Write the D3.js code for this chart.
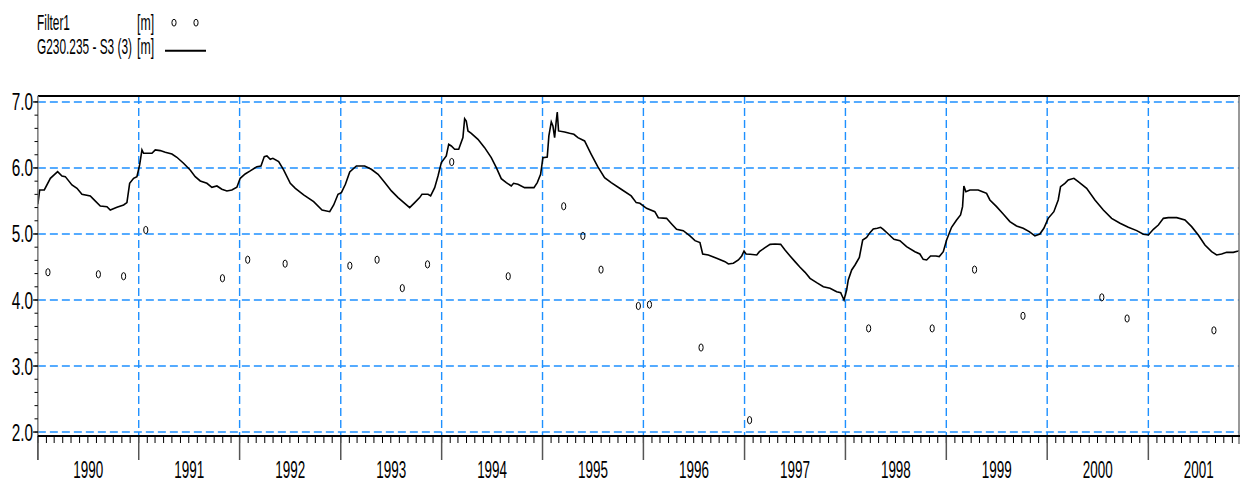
<!DOCTYPE html>
<html><head><meta charset="utf-8">
<script src="https://cdn.jsdelivr.net/npm/d3@7/dist/d3.min.js"></script>
<style>html,body{margin:0;padding:0;background:#fff;}svg{display:block;}</style>
</head><body>
<script>
// ---- Data (decimal years, metres) ----
const lineYears = [1990.000,1990.018,1990.064,1990.124,1990.196,1990.239,1990.272,1990.338,1990.388,1990.437,1990.520,1990.553,1990.619,1990.685,1990.718,1990.784,1990.850,1990.883,1990.910,1990.949,1990.982,1991.009,1991.032,1991.048,1991.131,1991.164,1991.213,1991.263,1991.329,1991.378,1991.444,1991.510,1991.560,1991.610,1991.676,1991.725,1991.775,1991.824,1991.874,1991.923,1991.973,1992.006,1992.055,1992.105,1992.171,1992.211,1992.244,1992.270,1992.303,1992.329,1992.386,1992.435,1992.501,1992.551,1992.633,1992.732,1992.815,1992.891,1992.930,
1992.973,1993.006,1993.046,1993.089,1993.155,1993.237,1993.303,1993.370,1993.436,1993.502,1993.568,1993.634,1993.683,1993.733,1993.782,1993.805,1993.865,1993.891,1993.931,1993.964,1993.997,1994.046,1994.070,1994.096,1994.129,1994.169,1994.211,1994.228,1994.244,1994.261,1994.294,1994.360,1994.426,1994.492,1994.542,1994.591,1994.641,1994.690,1994.713,1994.756,1994.822,1994.915,1994.948,1994.981,1995.004,1995.047,1995.063,1995.087,1995.103,1995.120,1995.136,1995.146,1995.159,1995.219,1995.268,1995.311,1995.351,1995.417,1995.483,1995.549,1995.615,1995.681,1995.780,1995.879,1995.929,
1995.965,1996.031,1996.113,1996.147,1996.229,1996.279,1996.328,1996.394,1996.460,1996.510,1996.559,1996.586,1996.642,1996.724,1996.807,1996.840,1996.889,1996.939,1996.972,1996.995,1997.015,1997.055,1997.121,1997.147,1997.203,1997.253,1997.302,1997.358,1997.401,1997.451,1997.500,1997.550,1997.600,1997.649,1997.715,1997.781,1997.847,1997.913,1997.953,1997.963,1997.986,1998.012,1998.028,1998.062,1998.095,1998.138,1998.171,1998.210,1998.243,1998.276,1998.316,1998.349,1998.375,1998.425,1998.481,1998.540,1998.606,1998.689,1998.738,1998.771,1998.805,1998.844,1998.897,1998.930,
1998.970,1999.003,1999.052,1999.102,1999.141,1999.161,1999.174,1999.194,1999.234,1999.316,1999.359,1999.399,1999.432,1999.498,1999.564,1999.630,1999.696,1999.762,1999.822,1999.878,1999.927,1999.967,2000.010,2000.066,2000.109,2000.132,2000.175,2000.208,2000.264,2000.307,2000.390,2000.472,2000.555,2000.637,2000.720,2000.802,2000.885,2000.951,2001.000,2001.050,2001.099,2001.149,2001.198,2001.281,2001.363,2001.429,2001.495,2001.561,2001.627,2001.677,2001.726,2001.776,2001.842,2001.891,2001.918];
const lineValues = [5.45,5.667,5.667,5.843,5.944,5.879,5.869,5.743,5.692,5.601,5.576,5.525,5.424,5.414,5.364,5.404,5.440,5.475,5.768,5.843,5.869,6.046,6.273,6.222,6.222,6.273,6.263,6.237,6.212,6.162,6.071,5.970,5.869,5.803,5.768,5.707,5.727,5.677,5.652,5.667,5.707,5.843,5.909,5.955,6.020,6.030,6.172,6.182,6.131,6.146,6.096,5.970,5.768,5.692,5.591,5.490,5.364,5.338,5.440,
5.601,5.626,5.753,5.939,6.030,6.030,5.980,5.904,5.778,5.652,5.551,5.465,5.399,5.475,5.551,5.601,5.601,5.576,5.702,5.879,6.081,6.182,6.359,6.333,6.283,6.283,6.460,6.747,6.712,6.561,6.525,6.434,6.308,6.157,6.005,5.838,5.778,5.727,5.768,5.753,5.702,5.702,5.778,5.904,6.157,6.167,6.485,6.697,6.636,6.460,6.712,6.848,6.561,6.545,6.525,6.510,6.460,6.409,6.207,6.015,5.854,5.778,5.677,5.576,5.475,
5.465,5.389,5.338,5.247,5.237,5.152,5.071,5.050,4.970,4.899,4.869,4.697,4.682,4.631,4.581,4.545,4.556,4.606,4.667,4.742,4.697,4.692,4.682,4.732,4.793,4.843,4.848,4.843,4.758,4.667,4.581,4.495,4.419,4.328,4.263,4.202,4.177,4.126,4.111,4.076,4.000,4.152,4.303,4.455,4.530,4.646,4.909,4.949,5.020,5.076,5.086,5.101,5.071,5.000,4.919,4.899,4.808,4.732,4.697,4.616,4.606,4.667,4.667,4.657,
4.732,4.909,5.101,5.212,5.288,5.414,5.727,5.641,5.667,5.667,5.641,5.616,5.515,5.414,5.303,5.187,5.121,5.086,5.035,4.970,5.000,5.086,5.237,5.338,5.515,5.717,5.768,5.818,5.843,5.793,5.692,5.515,5.364,5.237,5.162,5.101,5.051,4.995,4.985,5.071,5.136,5.237,5.247,5.247,5.212,5.111,4.985,4.833,4.732,4.682,4.697,4.722,4.722,4.742,4.757];

const filterYears = [1990.10,1990.60,1990.85,1991.07,1991.83,1992.08,1992.45,1993.09,1993.36,1993.61,1993.86,1994.10,1994.66,1995.21,1995.40,1995.58,1995.95,1996.06,1996.57,1997.05,1998.23,1998.86,1999.28,1999.76,2000.54,2000.79,2001.65];
const filterValues = [4.42,4.39,4.36,5.06,4.33,4.61,4.55,4.52,4.61,4.18,4.54,6.09,4.36,5.42,4.97,4.46,3.91,3.93,3.28,2.18,3.57,3.57,4.46,3.76,4.04,3.72,3.54];

const yearLabels = ["1990","1991","1992","1993","1994","1995","1996","1997","1998","1999","2000","2001"];
const yTickLabels = ["2.0","3.0","4.0","5.0","6.0","7.0"];
const legendNames = ["Filter1","G230.235 - S3 (3)"];
const legendUnits = ["[m]","[m]"];

// ---- helpers ----
function decToDate(y){const yr=Math.floor(y);const s=new Date(yr,0,1),e=new Date(yr+1,0,1);return new Date(s.getTime()+(y-yr)*(e-s));}

const W=1241,H=482;
const L=37.85,R=1239,T=96,B=436;
const x=d3.scaleTime().domain([new Date(1990,0,1),new Date(2001,10,25)]).range([L,R]);
const y=d3.scaleLinear().domain([1.94,7.09]).range([B,T]);
const FONT='"Liberation Sans", Arial, sans-serif';
const GRID='#1e90ff';

const svg=d3.select('body').append('svg').attr('width',W).attr('height',H);

svg.append('clipPath').attr('id','plot').append('rect').attr('x',L).attr('y',T).attr('width',R-L).attr('height',B-T);

// grid
const yTickVals=yTickLabels.map(Number);
svg.append('g').selectAll('line').data(yTickVals).join('line')
  .attr('x1',L).attr('x2',R).attr('y1',d=>y(d)).attr('y2',d=>y(d))
  .attr('stroke',GRID).attr('stroke-width',1.4).attr('stroke-dasharray','8,4');
const yearStarts=yearLabels.map(s=>new Date(+s,0,1));
svg.append('g').selectAll('line').data(yearStarts.slice(1)).join('line')
  .attr('x1',d=>x(d)).attr('x2',d=>x(d)).attr('y1',T).attr('y2',B)
  .attr('stroke',GRID).attr('stroke-width',1.4).attr('stroke-dasharray','8,4');

// series line
const line=d3.line().x((d,i)=>x(decToDate(lineYears[i]))).y((d,i)=>y(lineValues[i]));
svg.append('path').datum(lineValues).attr('d',line).attr('fill','none')
  .attr('stroke','#000').attr('stroke-width',1.6).attr('clip-path','url(#plot)');

// filter points
svg.append('g').selectAll('ellipse').data(filterValues).join('ellipse')
  .attr('cx',(d,i)=>x(decToDate(filterYears[i]))).attr('cy',d=>y(d))
  .attr('rx',2.1).attr('ry',3.6).attr('fill','none').attr('stroke','#000').attr('stroke-width',1);

// frame
svg.append('line').attr('x1',L).attr('x2',R+1).attr('y1',T).attr('y2',T).attr('stroke','#000').attr('stroke-width',2);
svg.append('line').attr('x1',R).attr('x2',R).attr('y1',T).attr('y2',444).attr('stroke','#777').attr('stroke-width',1.5);
svg.append('line').attr('x1',L).attr('x2',L).attr('y1',T).attr('y2',460).attr('stroke','#777').attr('stroke-width',1.5);

// x axis: monthly minor ticks, yearly major ticks
const months=d3.timeMonth.range(new Date(1990,0,1),new Date(2001,11,1));
svg.append('g').selectAll('line').data(months).join('line')
  .attr('x1',d=>x(d)).attr('x2',d=>x(d)).attr('y1',B).attr('y2',443)
  .attr('stroke','#000').attr('stroke-width',1);
svg.append('g').selectAll('line').data(yearStarts).join('line')
  .attr('x1',d=>x(d)).attr('x2',d=>x(d)).attr('y1',B).attr('y2',460)
  .attr('stroke','#555').attr('stroke-width',1.5);
svg.append('line').attr('x1',L).attr('x2',R+1).attr('y1',B).attr('y2',B).attr('stroke','#000').attr('stroke-width',2);

svg.append('g').selectAll('g').data(yearLabels).join('g')
  .attr('transform',d=>`translate(${x(decToDate(+d+0.5))},478) scale(0.56,1)`)
  .append('text').attr('text-anchor','middle').attr('font-family',FONT).attr('font-size',24).attr('fill','#000').text(d=>d);

// y axis ticks
const minorY=d3.range(20,71,2).map(v=>v/10);
svg.append('g').selectAll('line').data(minorY).join('line')
  .attr('x1',34.5).attr('x2',L).attr('y1',d=>y(d)).attr('y2',d=>y(d)).attr('stroke','#000').attr('stroke-width',1);
svg.append('g').selectAll('line').data(yTickVals).join('line')
  .attr('x1',33).attr('x2',L).attr('y1',d=>y(d)).attr('y2',d=>y(d)).attr('stroke','#000').attr('stroke-width',1.2);
svg.append('g').selectAll('g').data(yTickLabels).join('g')
  .attr('transform',d=>`translate(33,${y(+d)+8.5}) scale(0.64,1)`)
  .append('text').attr('text-anchor','end').attr('font-family',FONT).attr('font-size',24).attr('fill','#000').text(d=>d);

// legend
const leg=svg.append('g');
legendNames.forEach((n,i)=>{
  leg.append('g').attr('transform',`translate(37,${30+i*24}) scale(0.54,1)`)
    .append('text').attr('font-family',FONT).attr('font-size',22).text(n);
  leg.append('g').attr('transform',`translate(137,${30+i*24}) scale(0.56,1)`)
    .append('text').attr('font-family',FONT).attr('font-size',22).text(legendUnits[i]);
});
[174,196].forEach(cx=>leg.append('ellipse').attr('cx',cx).attr('cy',22.7).attr('rx',2.1).attr('ry',3.4)
  .attr('fill','none').attr('stroke','#000').attr('stroke-width',1));
leg.append('line').attr('x1',165).attr('x2',206).attr('y1',50.7).attr('y2',50.7).attr('stroke','#000').attr('stroke-width',2);
</script>
</body></html>
